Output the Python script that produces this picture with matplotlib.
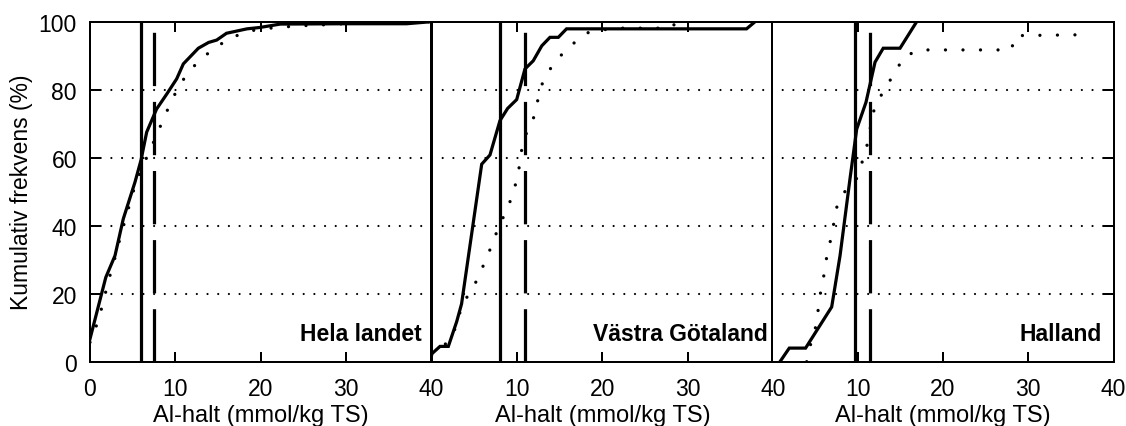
import matplotlib
matplotlib.use('Agg')
import matplotlib.pyplot as plt

plt.rcParams['font.family'] = ['Liberation Sans', 'DejaVu Sans']
plt.rcParams['lines.scale_dashes'] = False

# ---------------- data ----------------
regions = ['Hela landet', 'Västra Götaland', 'Halland']

hela_solid_x = [0, 1.85, 2.93, 3.9, 5.27, 5.98, 6.64, 7.8, 8.99, 10.16, 10.94, 12.7, 13.9, 14.85, 16.0, 18.4, 19.9, 22.3, 30.0, 37.1, 40.0]
hela_solid_y = [6.7, 24.8, 31.2, 42.0, 52.8, 59.3, 67.5, 74.3, 78.7, 83.2, 87.6, 92.2, 93.9, 94.6, 96.6, 97.9, 98.3, 99.3, 99.4, 99.4, 100.0]
hela_dot_x = [0, 0.78, 1.37, 1.88, 2.42, 3.0, 3.52, 4.1, 4.69, 5.27, 6.05, 7.03, 7.89, 8.79, 9.69, 10.82, 12.42, 14.38, 16.4, 18.5, 20.6, 22.5, 24.6, 26.7, 32.0, 40.0]
hela_dot_y = [5.7, 10.8, 15.8, 20.9, 26.1, 31.2, 36.3, 41.5, 46.7, 51.8, 56.9, 62.1, 67.2, 72.4, 77.5, 82.6, 87.6, 91.9, 95.1, 97.2, 98.0, 98.4, 98.8, 99.0, 99.7, 100.0]

vg_solid_x = [0, 0.97, 1.95, 2.93, 3.5, 5.86, 6.83, 8.0, 8.9, 9.96, 10.93, 11.9, 12.9, 13.86, 14.84, 15.8, 36.9, 37.9]
vg_solid_y = [2.3, 4.5, 4.5, 11.8, 17.0, 58.1, 60.8, 70.9, 74.5, 77.1, 86.1, 88.5, 92.9, 95.4, 95.4, 97.9, 97.9, 100.0]
vg_dot_x = [0, 1.0, 2.0, 3.0, 3.5, 4.8, 5.74, 6.64, 7.42, 8.3, 9.18, 9.84, 10.27, 10.55, 11.13, 12.1, 12.5, 13.09, 14.4, 16.1, 18.2, 19.9, 22.3, 28.0, 28.4, 29.5]
vg_dot_y = [2.0, 4.0, 6.0, 11.0, 16.7, 21.4, 26.5, 31.7, 36.9, 42.0, 47.1, 52.3, 57.4, 62.4, 67.5, 72.6, 77.8, 82.9, 88.1, 92.6, 96.7, 97.6, 98.1, 98.1, 99.1, 100.0]

hal_solid_x = [0.9, 1.99, 3.9, 6.96, 7.94, 9.1, 9.89, 10.98, 12.04, 13.0, 14.97, 16.92]
hal_solid_y = [0, 4.0, 4.0, 16.1, 31.2, 53.7, 68.4, 76.3, 88.1, 92.2, 92.2, 100.0]
hal_dot_x = [4.03, 4.5, 5.09, 5.39, 5.67, 6.06, 6.37, 6.84, 7.23, 7.62, 8.52, 9.89, 10.55, 11.14, 11.5, 11.96, 13.0, 14.26, 15.47, 17.3, 28.0, 28.5, 37.5]
hal_dot_y = [0, 5.2, 10.3, 15.5, 20.6, 25.6, 30.7, 35.9, 41.0, 46.2, 50.1, 53.9, 58.9, 64.0, 69.0, 74.5, 79.5, 84.6, 89.8, 91.7, 91.7, 95.9, 96.2]

median_lines = [6.0, 8.0, 9.7]      # solid vertical lines
mean_lines = [7.5, 10.9, 11.5]      # dashed vertical lines

grid_levels = [20, 40, 60, 80]
yticks = [0, 20, 40, 60, 80, 100]
xticks_first = [0, 10, 20, 30, 40]
xticks_other = [10, 20, 30, 40]

solid_x = [hela_solid_x, vg_solid_x, hal_solid_x]
solid_y = [hela_solid_y, vg_solid_y, hal_solid_y]
dot_x = [hela_dot_x, vg_dot_x, hal_dot_x]
dot_y = [hela_dot_y, vg_dot_y, hal_dot_y]

# ---------------- drawing ----------------
PX = 0.72  # points per pixel at 100 dpi
W, H = 1126, 427
fig = plt.figure(figsize=(W / 100, H / 100), dpi=100)

lefts = [90, 431.7, 772.3]
label_x = [38.9, 39.4, 38.6]
FS = 16.5
LW = 3.2

for i in range(3):
    ax = fig.add_axes([lefts[i] / W, 64.3 / H, 341.3 / W, 340 / H])
    ax.set_xlim(0, 40)
    ax.set_ylim(0, 100)

    for g in grid_levels:
        ax.axhline(g, color='black', lw=2.2 * PX, linestyle=(0, (0.01, 10.67 * PX)),
                   dash_capstyle='round', zorder=1)

    ax.axvline(median_lines[i], color='black', lw=LW * PX, zorder=3)
    ax.axvline(mean_lines[i], ymin=0, ymax=0.97, color='black', lw=LW * PX,
               linestyle=(0, (53.3 * PX, 15.8 * PX)), dash_capstyle='butt', zorder=3)

    ax.plot(dot_x[i], dot_y[i], color='black', lw=3.3 * PX,
            linestyle=(0, (0.01, 17.5 * PX)), dash_capstyle='round', zorder=2)
    ax.plot(solid_x[i], solid_y[i], color='black', lw=LW * PX,
            solid_joinstyle='miter', zorder=4)

    ax.text(label_x[i], 6.4, regions[i], ha='right', va='baseline',
            fontsize=FS, fontweight='bold')

    for s in ax.spines.values():
        s.set_linewidth(2.0 * PX)
        s.set_zorder(5)

    if i == 0:
        ax.set_xticks(xticks_first)
        ax.set_yticks(yticks)
        ax.tick_params(axis='y', left=True, right=False, labelleft=True,
                       direction='in', length=11 * PX, width=2.0 * PX,
                       labelsize=FS, pad=13 * PX)
        ax.set_ylabel('Kumulativ frekvens (%)', fontsize=FS, labelpad=4)
    else:
        ax.set_xticks(xticks_other)
        if i == 2:
            ax.set_yticks(yticks)
            ax.tick_params(axis='y', left=False, right=True, labelleft=False,
                           labelright=False, direction='in', length=11 * PX,
                           width=2.0 * PX)
        else:
            ax.set_yticks([])
    ax.tick_params(axis='x', top=True, bottom=True, direction='in',
                   length=10 * PX, width=2.0 * PX, labelsize=FS, pad=15 * PX)
    ax.set_xlabel('Al-halt (mmol/kg TS)', fontsize=FS + 0.5, labelpad=3)

fig.savefig('out.png', dpi=100)
